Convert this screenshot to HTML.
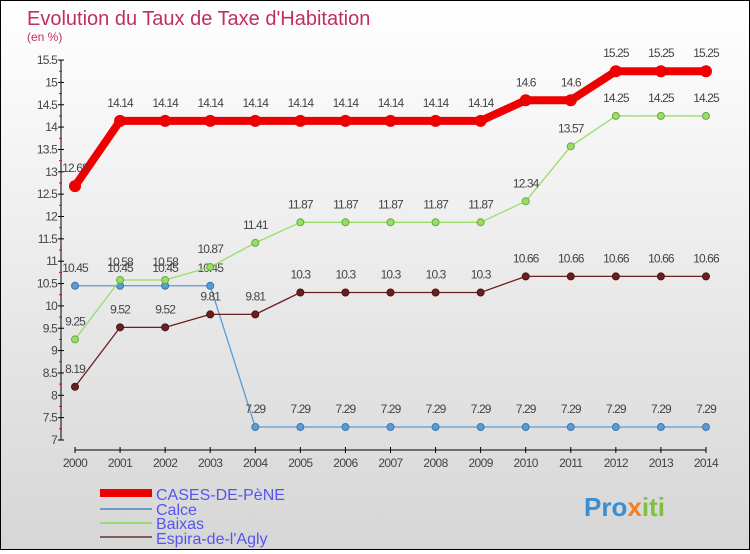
<!DOCTYPE html>
<html><head><meta charset="utf-8"><style>
html,body{margin:0;padding:0}
body{width:750px;height:550px;overflow:hidden;font-family:"Liberation Sans",sans-serif}
#wrap{position:absolute;left:0;top:0;width:748px;height:548px;border:1px solid #000;background:linear-gradient(#ffffff,#d6d6d6)}
</style></head><body>
<div id="wrap">
<svg id="chart" width="748" height="548" xmlns="http://www.w3.org/2000/svg">
<text x="26" y="24" font-size="20" fill="#c0305e">Evolution du Taux de Taxe d'Habitation</text>
<text x="26" y="40" font-size="12" fill="#c0305e">(en %)</text>
<g id="axes"></g><g id="series"></g>
<g>
<rect x="99" y="488" width="52" height="8" fill="#ee0000"/>
<text x="155" y="499" font-size="16" fill="#5555ee">CASES-DE-PèNE</text>
<rect x="99" y="507" width="52" height="2" fill="#6b9ec7"/>
<text x="155" y="514" font-size="16" fill="#5555ee">Calce</text>
<rect x="99" y="521" width="52" height="2" fill="#99dd77"/>
<text x="155" y="528" font-size="16" fill="#5555ee">Baixas</text>
<rect x="99" y="535" width="52" height="2" fill="#8a5a5a"/>
<text x="155" y="543" font-size="16" fill="#5555ee">Espira-de-l'Agly</text>
</g>
<text x="583" y="515" font-size="26" font-weight="bold" fill="#3a8fd0">Pro<tspan fill="#f08020">x</tspan><tspan fill="#80c040">iti</tspan></text>
</svg></div>
<script>
const years=[2000,2001,2002,2003,2004,2005,2006,2007,2008,2009,2010,2011,2012,2013,2014];
const cases=[12.68,14.14,14.14,14.14,14.14,14.14,14.14,14.14,14.14,14.14,14.6,14.6,15.25,15.25,15.25];
const calce=[10.45,10.45,10.45,10.45,7.29,7.29,7.29,7.29,7.29,7.29,7.29,7.29,7.29,7.29,7.29];
const baixas=[9.25,10.58,10.58,10.87,11.41,11.87,11.87,11.87,11.87,11.87,12.34,13.57,14.25,14.25,14.25];
const espira=[8.19,9.52,9.52,9.81,9.81,10.3,10.3,10.3,10.3,10.3,10.66,10.66,10.66,10.66,10.66];
const yTicks=[7,7.5,8,8.5,9,9.5,10,10.5,11,11.5,12,12.5,13,13.5,14,14.5,15,15.5];
const NS="http://www.w3.org/2000/svg";
const X=i=>74+i*45.07;
const Y=v=>439-(v-7)*44.7;
function mk(t,a,p){const e=document.createElementNS(NS,t);for(const k in a)e.setAttribute(k,a[k]);p.appendChild(e);return e;}
const ax=document.getElementById('axes'),sg=document.getElementById('series');
let l=mk('line',{x1:60,y1:Y(15.5),x2:60,y2:Y(7),stroke:'#000'},ax);


l=mk('line',{x1:X(0),y1:449,x2:X(14),y2:449,stroke:'#000'},ax);


yTicks.forEach(v=>{
 mk('line',{x1:57,y1:Y(v),x2:63,y2:Y(v),stroke:'#000'},ax);
 if(v<15.5)mk('line',{x1:58,y1:Y(v+0.25),x2:61,y2:Y(v+0.25),stroke:'#e00'},ax);
 const t=mk('text',{x:56,y:Y(v)+4,'font-size':12,'text-anchor':'end',fill:'#444','letter-spacing':'-0.8'},ax);
 t.textContent=String(v);
 
 
});
years.forEach((yr,i)=>{
 mk('line',{x1:X(i),y1:446,x2:X(i),y2:452,stroke:'#000'},ax);
 const t=mk('text',{x:X(i),y:466,'font-size':12,'text-anchor':'middle',fill:'#444','letter-spacing':'-0.6'},ax);
 t.textContent=yr;
 
 
});
function series(data,color,w,r,name,dotStroke){
 const g=mk('g',{},sg);
 
 
 mk('polyline',{points:data.map((v,i)=>X(i)+','+Y(v)).join(' '),fill:'none',stroke:color,'stroke-width':w,'stroke-linejoin':'round'},g);
 data.forEach((v,i)=>{
  const c=mk('circle',{cx:X(i),cy:Y(v),r:r,fill:color,stroke:dotStroke||'none','stroke-width':1},g);
  
  
  const t=mk('text',{x:X(i),y:Y(v)-14,'font-size':12,'text-anchor':'middle',fill:'#444','letter-spacing':'-0.9'},g);
  t.textContent=String(v);
  
  
 });
}
series(calce,'#5b9bd0',1.3,3.5,'series-calce','#3a78b0');
series(baixas,'#99dd66',1.3,3.5,'series-baixas','#6aaa40');
series(espira,'#6a2020',1.3,3.5,'series-espira','#501010');
series(cases,'#ee0000',8,6,'series-cases');
</script>
</body></html>
